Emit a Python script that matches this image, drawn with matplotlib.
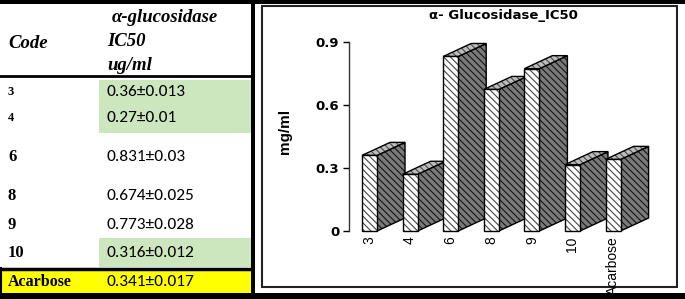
import matplotlib
matplotlib.use("Agg")
import matplotlib.pyplot as plt
from matplotlib.patches import Polygon, Rectangle

# ---------------------------------------------------------------------------
# data
codes = ['3', '4', '6', '8', '9', '10', 'Acarbose']
ic50 = [0.36, 0.27, 0.831, 0.674, 0.773, 0.316, 0.341]
err = [0.013, 0.01, 0.03, 0.025, 0.028, 0.012, 0.017]
yticks = [0, 0.3, 0.6, 0.9]
ytick_labels = ['0', '0.3', '0.6', '0.9']

plt.rcParams['hatch.linewidth'] = 0.8

W, H = 685, 299
fig = plt.figure(figsize=(W / 100, H / 100), dpi=100)

# background axes in pixel coordinates, used for the table and frames
bg = fig.add_axes([0, 0, 1, 1])
bg.set_xlim(0, W)
bg.set_ylim(H, 0)
bg.axis('off')

# ---------------------------------------------------------------------------
# table on the left
serif = ['Liberation Serif', 'DejaVu Serif']
sans = ['Carlito', 'Liberation Sans', 'DejaVu Sans']

row_y = [92, 118, 157, 196, 225, 253, 282]
row_size = [9, 9, 12, 12, 12, 12, 11.5]

bg.add_patch(Rectangle((99, 80), 153, 53, color='#cce6bd', lw=0))
bg.add_patch(Rectangle((99, 238), 153, 29, color='#cce6bd', lw=0))
bg.add_patch(Rectangle((0, 269), 252, 25, color='#ffff00', lw=0))

bg.plot([0, 252], [76, 76], color='black', lw=2)
bg.plot([0, 252], [268.5, 268.5], color='black', lw=2.5)
bg.plot([0.8, 0.8], [268, 294], color='black', lw=1.5)

hdr = dict(family=serif, style='italic', weight='bold', fontsize=13.5,
           va='center', ha='left')
bg.text(8, 43, 'Code', **hdr)
bg.text(112, 17, 'α-glucosidase', **hdr)
bg.text(107, 42, 'IC50', **hdr)
bg.text(107, 66, 'ug/ml', **hdr)

for c, v, e, y, s in zip(codes, ic50, err, row_y, row_size):
    bg.text(8, y, c, family=serif, weight='bold', fontsize=s, va='center',
            ha='left')
    bg.text(107, y, f'{v}\u00b1{e}', family=sans, fontsize=12.5,
            va='center', ha='left')

# black frame pieces
bg.add_patch(Rectangle((0, 0), W, 3.5, color='black', lw=0))
bg.add_patch(Rectangle((0, 293), W, 6, color='black', lw=0))
bg.add_patch(Rectangle((251.5, 0), 3.5, H, color='black', lw=0))
bg.add_patch(Rectangle((262, 6), 415, 281, fill=False, edgecolor='#222222',
                       lw=1.5))

# ---------------------------------------------------------------------------
# pseudo 3D bar chart
ax = fig.add_axes([349 / W, (H - 231) / H, 300 / W, 189 / H])
ax.set_xlim(-0.32, 7.07)
ax.set_ylim(0, 0.9)
ax.patch.set_alpha(0)

w = 0.37     # front face width
dx = 0.69    # depth offset in x
dy = 0.062   # depth offset in y
hatch = '\\' * 5


def face(pts, fc, hc):
    ax.add_patch(Polygon(pts, closed=True, facecolor=fc, edgecolor=hc,
                         hatch=hatch, lw=0, clip_on=False))
    ax.add_patch(Polygon(pts, closed=True, fill=False, edgecolor='black',
                         lw=1, clip_on=False))


for i, h in enumerate(ic50):
    x0 = i
    side = [(x0 + w, 0), (x0 + w + dx, dy), (x0 + w + dx, h + dy), (x0 + w, h)]
    top = [(x0, h), (x0 + w, h), (x0 + w + dx, h + dy), (x0 + dx, h + dy)]
    front = [(x0, 0), (x0 + w, 0), (x0 + w, h), (x0, h)]
    face(side, '#7a7a7a', '#151515')
    face(top, '#bdbdbd', '#4a4a4a')
    face(front, 'white', '#444444')

for s in ['top', 'right', 'bottom']:
    ax.spines[s].set_visible(False)
ax.spines['left'].set_color('#333333')
ax.spines['left'].set_linewidth(1)

ax.set_yticks(yticks)
ax.set_yticklabels(ytick_labels, family='DejaVu Sans', weight='bold',
                   fontsize=9.5)
ax.tick_params(axis='y', direction='out', length=4, width=1, pad=3)
ax.set_xticks([i + w / 2 for i in range(len(codes))])
ax.set_xticklabels(codes, rotation=90, family='Liberation Sans',
                   fontsize=10, va='top')
ax.tick_params(axis='x', length=0, pad=4)

fig.text(285 / W, 1 - 131 / H, 'mg/ml', family='Liberation Sans',
         weight='bold', fontsize=11, rotation=90, ha='center', va='center')
fig.text(503 / W, 1 - 15 / H, 'α- Glucosidase_IC50', family='DejaVu Sans',
         weight='bold', fontsize=9.5, ha='center', va='center')

fig.savefig('out.png', dpi=100)
